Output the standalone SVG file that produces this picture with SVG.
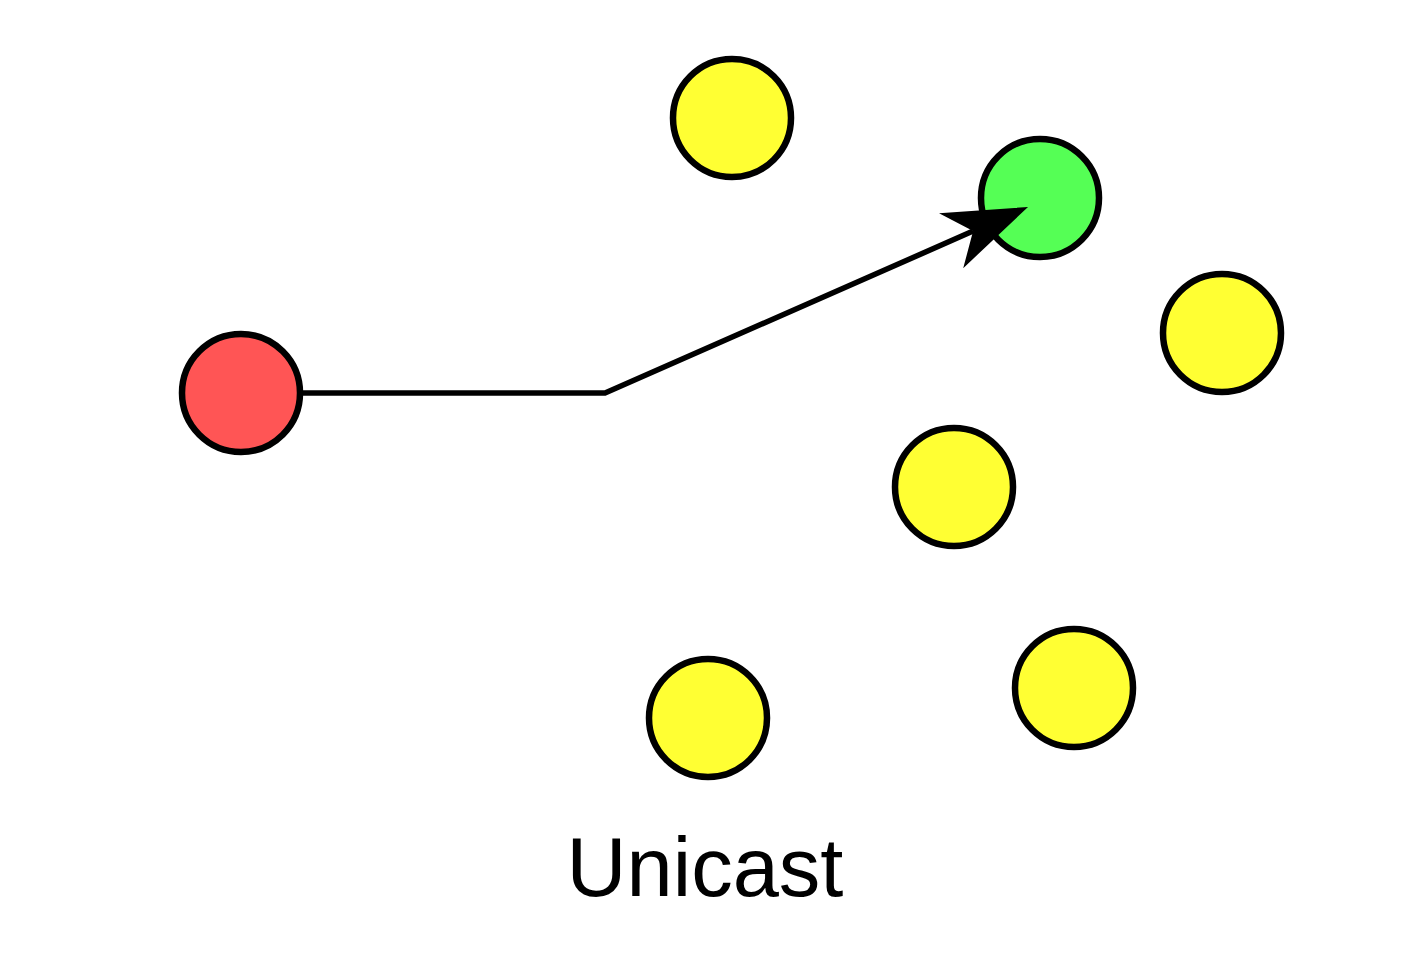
<svg xmlns="http://www.w3.org/2000/svg" width="1408" height="964" viewBox="0 0 1408 964">
<style>
.node{stroke:#000;stroke-width:6.5}
.red{fill:#ff5555}
.yellow{fill:#ffff33}
.green{fill:#55ff55}
.edge{fill:none;stroke:#000;stroke-width:5.5}
.label{font-family:"Liberation Sans",Arial,sans-serif;font-size:83px;fill:#000}
</style>
<defs>
<marker id="arrow" markerUnits="userSpaceOnUse" markerWidth="100" markerHeight="80" viewBox="-90 -40 100 80" refX="-60" refY="0" orient="auto">
<path d="M0 0 L-84 -30 L-60 0 L-84 30 Z" fill="#000"/>
</marker>
</defs>
<rect width="1408" height="964" fill="#fff"/>
<g id="sender"><circle class="node red" cx="241" cy="393" r="59"/></g>
<g id="node-top"><circle class="node yellow" cx="732" cy="118" r="59"/></g>
<g id="receiver"><circle class="node green" cx="1040" cy="198" r="59"/></g>
<g id="node-right"><circle class="node yellow" cx="1222" cy="333" r="59"/></g>
<g id="node-mid"><circle class="node yellow" cx="954" cy="487" r="59"/></g>
<g id="node-bottom-right"><circle class="node yellow" cx="1074" cy="688" r="59"/></g>
<g id="node-bottom"><circle class="node yellow" cx="708" cy="718" r="59"/></g>
<g id="connectors">
<path class="edge" d="M303 393 L605 393 L973.1 231.1" marker-end="url(#arrow)"/>
</g>
<text class="label" x="705" y="896" text-anchor="middle">Unicast</text>
</svg>
